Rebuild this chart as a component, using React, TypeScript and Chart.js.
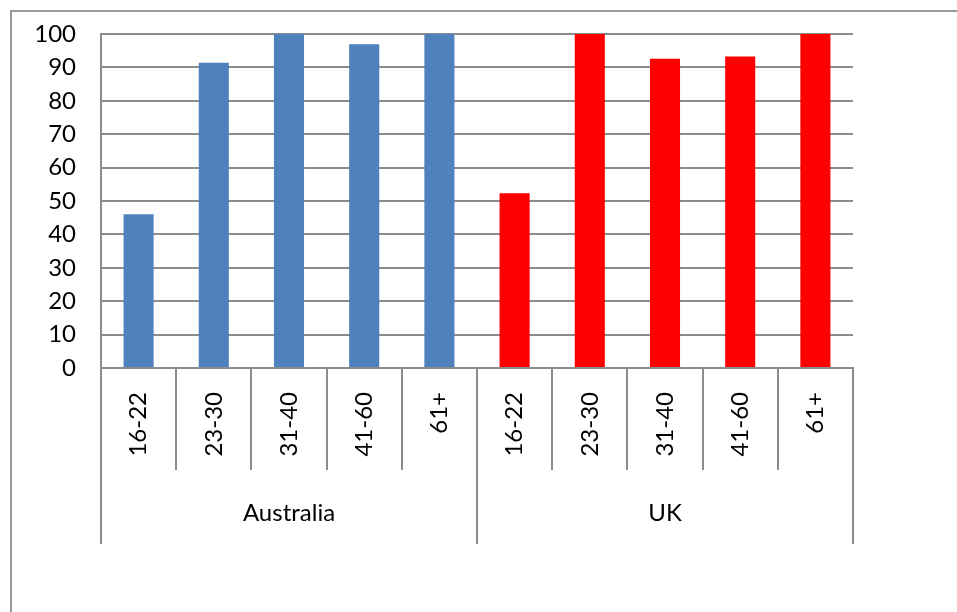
import React, { useEffect, useRef } from "react";
import { Chart, registerables } from "chart.js";

Chart.register(...registerables);

// Age bands shown under each country
const ageBands = ["16-22", "23-30", "31-40", "41-60", "61+"];
const countries = ["Australia", "UK"];

// Percentages per age band
const australiaValues = [46, 91.4, 100, 96.9, 100];
const ukValues = [52.3, 100, 92.6, 93.3, 100];

const yTicks = [0, 10, 20, 30, 40, 50, 60, 70, 80, 90, 100];

const australiaColor = "#4F81BD";
const ukColor = "#FF0000";
const lineColor = "#8c8c8c";
const fontFamily = "Lato, 'Open Sans', sans-serif";
const fontSize = 24;

// Outer chart frame (only its top and left edges fall inside the canvas)
const framePlugin = {
  id: "frame",
  beforeDraw(chart: Chart) {
    const ctx = chart.ctx;
    ctx.save();
    ctx.strokeStyle = "#999999";
    ctx.lineWidth = 2;
    ctx.beginPath();
    ctx.moveTo(11, chart.height);
    ctx.lineTo(11, 11);
    ctx.lineTo(chart.width, 11);
    ctx.stroke();
    ctx.restore();
  },
};

export default function App() {
  const canvasRef = useRef<HTMLCanvasElement | null>(null);

  useEffect(() => {
    if (!canvasRef.current) return;
    const labels = [...ageBands, ...ageBands];
    const values = [...australiaValues, ...ukValues];
    const colors = [
      ...australiaValues.map(() => australiaColor),
      ...ukValues.map(() => ukColor),
    ];

    const chart = new Chart(canvasRef.current, {
      type: "bar",
      data: {
        labels,
        datasets: [
          {
            data: values,
            backgroundColor: colors,
            borderWidth: 0,
            barPercentage: 0.4,
            categoryPercentage: 1,
            xAxisID: "x",
          },
        ],
      },
      options: {
        responsive: false,
        animation: false,
        devicePixelRatio: 1,
        layout: { padding: { left: 0, right: 104, top: 34, bottom: 68 } },
        plugins: {
          legend: { display: false },
          tooltip: { enabled: false },
        },
        scales: {
          x: {
            type: "category",
            position: "bottom",
            offset: true,
            grid: {
              offset: true,
              drawOnChartArea: false,
              drawTicks: true,
              tickLength: 102,
              color: lineColor,
              lineWidth: 2,
            },
            border: { display: true, color: lineColor, width: 2 },
            ticks: {
              autoSkip: false,
              minRotation: 90,
              maxRotation: 90,
              padding: -78,
              color: "#000",
              font: { family: fontFamily, size: fontSize },
            },
            afterFit(scale: any) {
              scale.height = 102;
            },
          },
          group: {
            type: "category",
            labels: countries,
            position: "bottom",
            offset: true,
            grid: {
              offset: true,
              drawOnChartArea: false,
              drawTicks: true,
              tickLength: 74,
              color: lineColor,
              lineWidth: 2,
            },
            border: { display: false },
            ticks: {
              autoSkip: false,
              maxRotation: 0,
              padding: -45,
              color: "#000",
              font: { family: fontFamily, size: fontSize },
            },
            afterFit(scale: any) {
              scale.height = 74;
            },
          },
          y: {
            min: 0,
            max: 100,
            afterBuildTicks(scale: any) {
              scale.ticks = yTicks.map((v) => ({ value: v }));
            },
            grid: {
              color: lineColor,
              lineWidth: 2,
              drawTicks: false,
            },
            border: { display: true, color: lineColor, width: 2 },
            ticks: {
              padding: 25,
              color: "#000",
              font: { family: fontFamily, size: fontSize },
            },
            afterFit(scale: any) {
              scale.width = 101;
              scale.paddingTop = 0;
              scale.paddingBottom = 0;
            },
          },
        },
      },
      plugins: [framePlugin],
    });
    return () => chart.destroy();
  }, []);

  return (
    <div style={{ position: "fixed", left: 0, top: 0, width: 957, height: 612, background: "#fff" }}>
      <canvas ref={canvasRef} width={957} height={612} />
    </div>
  );
}
